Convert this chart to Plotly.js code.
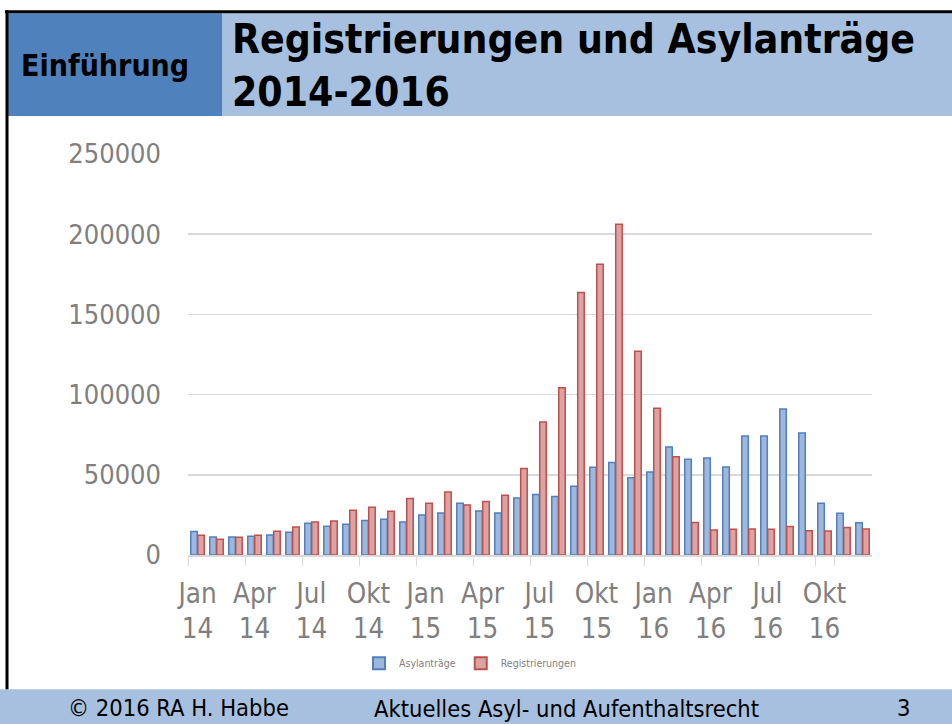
<!DOCTYPE html>
<html>
<head>
<meta charset="utf-8">
<script src="https://cdn.plot.ly/plotly-3.0.1.min.js"></script>
<style>
html,body{margin:0;padding:0;background:#fff;}
#chart{width:952px;height:724px;}
</style>
</head>
<body>
<div id="chart"></div>
<script>
// ---- data ----
var months = ["Jan","Feb","Mär","Apr","Mai","Jun","Jul","Aug","Sep","Okt","Nov","Dez"];
var years = ["14","15","16"];
var categories = [];
years.forEach(function(y){ months.forEach(function(m){ categories.push(m + " " + y); }); });

var asylantraege = [14600, 11250, 11250, 11700, 12500, 14200, 19800, 17900, 19200, 21450, 22300, 20600,
                    25000, 26250, 32300, 27500, 26250, 35600, 37700, 36400, 42800, 54700, 57600, 48100,
                    51800, 67400, 59700, 60500, 54900, 74200, 74200, 91000, 76100, 32200, 26000, 20100];
var registrierungen = [12300, 9800, 11060, 12300, 14800, 17500, 20600, 21250, 27900, 29800, 27300, 35200,
                       32300, 39200, 31250, 33300, 37300, 53900, 82900, 104200, 163700, 181200, 206200, 127100,
                       91500, 61200, 20200, 15600, 16000, 16200, 16000, 17800, 15100, 15000, 17200, 16200];

var tickCats = ["Jan 14","Apr 14","Jul 14","Okt 14","Jan 15","Apr 15","Jul 15","Okt 15","Jan 16","Apr 16","Jul 16","Okt 16"];
var tickLabels = ["Jan<br>14","Apr<br>14","Jul<br>14","Okt<br>14","Jan<br>15","Apr<br>15","Jul<br>15","Okt<br>15","Jan<br>16","Apr<br>16","Jul<br>16","Okt<br>16"];

var seriesNames = ["Asylanträge", "Registrierungen"];
var titleText = "Registrierungen und Asylanträge<br>2014-2016";

// ---- layout geometry (pixels) ----
var W = 952, H = 724;
var L = 188, R = 872, T = 154, B = 555.5;
function px(x){ return (x - L) / (R - L); }
function py(y){ return (B - y) / (B - T); }

var FONT = "'DejaVu Sans Condensed', 'DejaVu Sans', Tahoma, sans-serif";
var lightBlue = "#a8c0df";
var darkBlue = "#4f81bd";

var traces = [
  {type:"bar", name:seriesNames[0], x:categories, y:asylantraege,
   marker:{color:"#a0b7dc", line:{color:"#4f81bd", width:1.5}}},
  {type:"bar", name:seriesNames[1], x:categories, y:registrierungen,
   marker:{color:"#dba3a2", line:{color:"#c0504d", width:1.5}}}
];

var layout = {
  width: W, height: H,
  margin: {l: L, r: W - R, t: T, b: H - B},
  paper_bgcolor: "#ffffff",
  plot_bgcolor: "#ffffff",
  barmode: "group",
  bargap: 0.27,
  bargroupgap: 0.06,
  showlegend: true,
  legend: {orientation: "h", x: px(470), xanchor: "center", y: py(664), yanchor: "middle",
           font: {family: FONT, size: 10.5, color: "#808080"}, itemwidth: 30, itemsizing: "constant",
           tracegroupgap: 0},
  xaxis: {
    type: "category",
    range: [-0.5, 35.5],
    tickmode: "array", tickvals: tickCats, ticktext: tickLabels,
    tickson: "boundaries",
    tickangle: 0,
    ticks: "outside", ticklen: 9, tickcolor: "#d9d9d9", tickwidth: 1,
    showline: true, linecolor: "#d9d9d9", linewidth: 1.5,
    showgrid: false, zeroline: false,
    tickfont: {family: FONT, size: 27.5, color: "#7f7f7f"},
    ticklabelstandoff: 13,
    fixedrange: true
  },
  yaxis: {
    range: [0, 250000],
    tickmode: "linear", tick0: 0, dtick: 50000,
    showgrid: true, gridcolor: "#d9d9d9", gridwidth: 1.5,
    zeroline: false, showline: false, ticks: "",
    tickfont: {family: FONT, size: 27, color: "#7f7f7f"},
    ticklabelstandoff: 26,
    tickformat: "d",
    fixedrange: true
  },
  shapes: [
    {type:"rect", xref:"paper", yref:"paper", x0:px(8), x1:px(222), y0:py(13), y1:py(116), fillcolor:darkBlue, line:{width:0}, layer:"below"},
    {type:"rect", xref:"paper", yref:"paper", x0:px(222), x1:px(W+2), y0:py(13), y1:py(116), fillcolor:lightBlue, line:{width:0}, layer:"below"},
    {type:"rect", xref:"paper", yref:"paper", x0:px(-2), x1:px(W+2), y0:py(690), y1:py(H+2), fillcolor:lightBlue, line:{width:0}, layer:"below"},
    {type:"line", xref:"paper", yref:"paper", x0:px(5), x1:px(W+2), y0:py(11.5), y1:py(11.5), line:{color:"#000", width:3}},
    {type:"line", xref:"paper", yref:"paper", x0:px(7), x1:px(7), y0:py(10), y1:py(690), line:{color:"#000", width:3}}
  ],
  annotations: [
    {xref:"paper", yref:"paper", x:px(19), y:py(65), xanchor:"left", yanchor:"middle", showarrow:false,
     text:"<b>Einführung</b>", font:{family:FONT, size:30, color:"#000"}},
    {xref:"paper", yref:"paper", x:px(230), y:py(65), xanchor:"left", yanchor:"middle", showarrow:false, align:"left",
     text:"<b>" + titleText + "</b>", font:{family:FONT, size:40.5, color:"#000"}},
    {xref:"paper", yref:"paper", x:px(66), y:py(709), xanchor:"left", yanchor:"middle", showarrow:false,
     text:"© 2016 RA H. Habbe", font:{family:FONT, size:23.5, color:"#000"}},
    {xref:"paper", yref:"paper", x:px(372), y:py(710), xanchor:"left", yanchor:"middle", showarrow:false,
     text:"Aktuelles Asyl- und Aufenthaltsrecht", font:{family:FONT, size:23.5, color:"#000"}},
    {xref:"paper", yref:"paper", x:px(903), y:py(709), xanchor:"center", yanchor:"middle", showarrow:false,
     text:"3", font:{family:FONT, size:23.5, color:"#000"}}
  ]
};

Plotly.newPlot("chart", traces, layout, {displayModeBar:false, staticPlot:true});
</script>
</body>
</html>
